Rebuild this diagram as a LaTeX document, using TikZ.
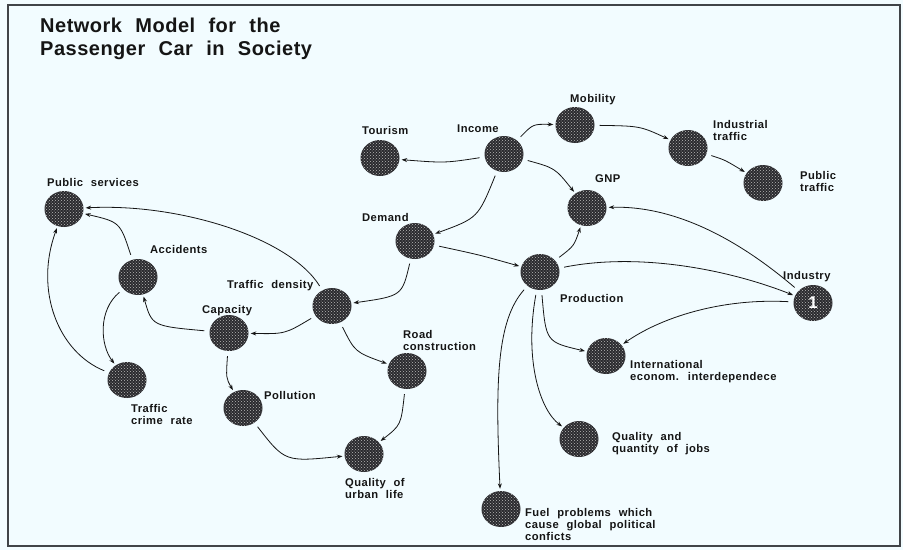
\documentclass[tikz,border=0pt]{standalone}
\usepackage{fontspec}
\setmainfont{Liberation Sans}
\newfontfamily\lblfont[LetterSpace=4,WordSpace=2.2]{Liberation Sans Bold}
\newfontfamily\ttlfont[LetterSpace=2.5,WordSpace=2.2]{Liberation Sans Bold}
\newfontfamily\numfont{Liberation Sans Bold}
\usetikzlibrary{patterns,arrows.meta,shapes.geometric}
\definecolor{bg}{HTML}{F2FCFF}
\definecolor{ink}{HTML}{151515}
\definecolor{ballc}{HTML}{2A2A2E}
\definecolor{framec}{HTML}{404448}
\begin{document}
\begin{tikzpicture}[x=1pt,y=-1pt,
  ball/.style={ellipse,minimum width=39pt,minimum height=36pt,inner sep=0pt,
    preaction={fill=ballc},pattern=crosshatch dots,pattern color=gray!55},
  lbl/.style={font=\lblfont\fontsize{11.2}{12}\selectfont,text=ink,inner sep=0pt,anchor=west,align=left},
  link/.style={draw=ink,line width=0.8pt,-{Stealth[length=5.5pt,width=4pt]},shorten >=2pt,shorten <=5pt}]
\useasboundingbox (0,0) rectangle (903,550);
\fill[bg] (0,0) rectangle (903,550);
\draw[framec,line width=1.3pt] (8,5) rectangle (900,546);
% title
\node[font=\ttlfont\fontsize{20}{23}\selectfont,text=ink,anchor=north west,align=left,inner sep=0pt] (title) at (40,18)
  {Network Model for the\\Passenger Car in Society};
% balls
\node[ball] (tourism) at (380,158) {};
\node[ball] (income) at (504,154) {};
\node[ball] (mobility) at (575,125) {};
\node[ball] (gnp) at (587,208) {};
\node[ball] (indtraffic) at (688,148) {};
\node[ball] (pubtraffic) at (763,183) {};
\node[ball] (demand) at (415,241) {};
\node[ball] (production) at (540,272) {};
\node[ball,font=\numfont\fontsize{17}{17}\selectfont,text=white] (industry) at (813,303) {1};
\node[ball] (intl) at (606,356) {};
\node[ball] (jobs) at (579,439) {};
\node[ball] (fuel) at (501,509) {};
\node[ball] (pubserv) at (64,209) {};
\node[ball] (accidents) at (138,277) {};
\node[ball] (density) at (332,306) {};
\node[ball] (capacity) at (229,333) {};
\node[ball] (road) at (407,371) {};
\node[ball] (pollution) at (243,408) {};
\node[ball] (urban) at (364,454) {};
\node[ball] (crime) at (127,380) {};
% labels
\node[lbl] (ltourism) at (362,130) {Tourism};
\node[lbl] (lincome) at (457,129) {Income};
\node[lbl] (lmobility) at (570,100) {Mobility};
\node[lbl] (lgnp) at (595,179) {GNP};
\node[lbl] (lindtraffic) at (713,130) {Industrial\\traffic};
\node[lbl] (lpubtraffic) at (800,181) {Public\\traffic};
\node[lbl] (ldemand) at (362,217) {Demand};
\node[lbl] (lproduction) at (560,298) {Production};
\node[lbl] (lindustry) at (783,277) {Industry};
\node[lbl] (lintl) at (630,372) {International\\econom. interdependece};
\node[lbl] (ljobs) at (612,444) {Quality and\\quantity of jobs};
\node[lbl] (lfuel) at (525,524) {Fuel problems which\\cause global political\\conficts};
\node[lbl] (lpubserv) at (47,182) {Public services};
\node[lbl] (laccidents) at (150,249) {Accidents};
\node[lbl] (ldensity) at (227,286) {Traffic density};
\node[lbl] (lcapacity) at (202,311) {Capacity};
\node[lbl] (lroad) at (403,340) {Road\\construction};
\node[lbl] (lpollution) at (264,395) {Pollution};
\node[lbl] (lurban) at (345,488) {Quality of\\urban life};
\node[lbl] (lcrime) at (131,414) {Traffic\\crime rate};
% connectors
\draw[link] (income) .. controls (445,163) .. (tourism);
\draw[link] (income) .. controls (533,124) .. (mobility);
\draw[link] (income) .. controls (555,168) .. (gnp);
\draw[link] (income) .. controls (478,218) .. (demand);
\draw[link] (mobility) .. controls (640,126) .. (indtraffic);
\draw[link] (indtraffic) .. controls (725,160) .. (pubtraffic);
\draw[link] (demand) .. controls (480,255) .. (production);
\draw[link] (production) .. controls (574,246) .. (gnp);
\draw[link] (production) .. controls (640,252) and (730,270) .. (industry);
\draw[link] (industry) .. controls (760,258) and (690,205) .. (gnp);
\draw[link] (industry) .. controls (720,298) and (660,318) .. (intl);
\draw[link] (production) .. controls (546,342) .. (intl);
\draw[link] (production) .. controls (524,360) and (540,410) .. (jobs);
\draw[link] (production) .. controls (497,320) and (495,380) .. (fuel);
\draw[link] (demand) .. controls (402,296) .. (density);
\draw[link] (density) .. controls (290,238) and (180,203) .. (pubserv);
\draw[link] (density) .. controls (285,334) .. (capacity);
\draw[link] (density) .. controls (355,352) .. (road);
\draw[link] (capacity) .. controls (152,326) .. (accidents);
\draw[link] (accidents) .. controls (120,222) .. (pubserv);
\draw[link] (accidents) .. controls (98,310) and (100,345) .. (crime);
\draw[link] (crime) .. controls (58,352) and (34,290) .. (pubserv);
\draw[link] (capacity) .. controls (226,378) .. (pollution);
\draw[link] (pollution) .. controls (285,462) .. (urban);
\draw[link] (road) .. controls (401,425) .. (urban);
\end{tikzpicture}
\end{document}
